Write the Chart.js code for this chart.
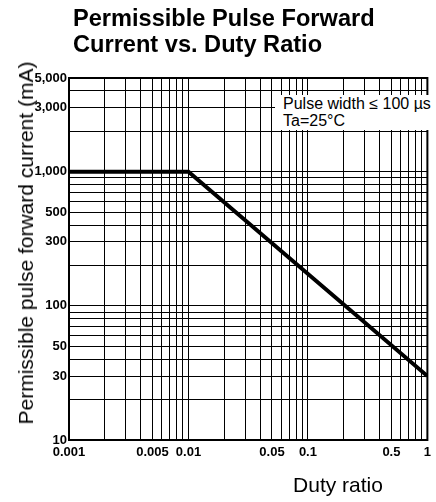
<!DOCTYPE html>
<html>
<head>
<meta charset="utf-8">
<script src="https://cdn.jsdelivr.net/npm/chart.js@4/dist/chart.umd.min.js"></script>
<style>
    html, body { margin: 0; padding: 0; background: #fff; }
    #wrap { position: relative; width: 436px; height: 502px; font-family: "Liberation Sans", Arial, sans-serif; color: #000; }
    #chart { position: absolute; left: 0; top: 0; }
    .title { position: absolute; left: 73px; top: 5px; font-weight: bold; font-size: 23.6px; line-height: 26px; }
    .ytitle { position: absolute; left: 26px; top: 243px; transform: translate(-50%, -50%) rotate(-90deg); white-space: nowrap; font-size: 21px; }
    .xtitle { position: absolute; left: 338px; top: 474px; transform: translateX(-50%); white-space: nowrap; font-size: 21px; line-height: 21px; }
    .note { position: absolute; left: 275px; top: 95px; width: 150px; height: 35px; padding-left: 8px; background: #fff; font-size: 16px; line-height: 17px; }
</style>
</head>
<body>
<div id="wrap">
    <canvas id="chart" width="436" height="502"></canvas>
    <div class="title">Permissible Pulse Forward<br>Current vs. Duty Ratio</div>
    <div class="ytitle">Permissible pulse forward current (mA)</div>
    <div class="xtitle">Duty ratio</div>
    <div class="note">Pulse width ≤ 100 µs<br>Ta=25°C</div>
</div>
<script>
// derating curve
const dutyRatio = [0.001, 0.01, 1];
const currentMA = [1000, 1000, 30];

// grid lines and labelled ticks
const xGrid = [0.001, 0.002, 0.003, 0.004, 0.005, 0.006, 0.007, 0.008, 0.009,
    0.01, 0.02, 0.03, 0.04, 0.05, 0.06, 0.07, 0.08, 0.09,
    0.1, 0.2, 0.3, 0.4, 0.5, 0.6, 0.7, 0.8, 0.9, 1];
const yGrid = [10, 20, 30, 40, 50, 60, 70, 80, 90,
    100, 200, 300, 400, 500, 600, 700, 800, 900,
    1000, 2000, 3000, 4000, 5000];
const xLabels = ['0.001', '0.005', '0.01', '0.05', '0.1', '0.5', '1'];
const yLabels = ['10', '30', '50', '100', '300', '500', '1,000', '3,000', '5,000'];

const tickFont = { family: '"Liberation Sans", Arial, sans-serif', size: 13, weight: 'bold' };

const labelFor = (list) => (v) => {
    const hit = list.find(l => Number(l.replace(/,/g, '')) === v);
    return hit || '';
};

const ctx = document.getElementById('chart').getContext('2d');
new Chart(ctx, {
    type: 'line',
    data: {
        datasets: [{
            data: dutyRatio.map((d, i) => ({ x: d, y: currentMA[i] })),
            borderColor: '#000',
            borderWidth: 4,
            pointRadius: 0,
            tension: 0
        }]
    },
    options: {
        responsive: false,
        animation: false,
        devicePixelRatio: 1,
        layout: { autoPadding: false, padding: { top: 78, right: 3, bottom: 0, left: 0 } },
        plugins: { legend: { display: false }, title: { display: false }, tooltip: { enabled: false } },
        scales: {
            x: {
                type: 'logarithmic',
                min: 0.001, max: 1,
                afterFit: (s) => { s.height = 62; },
                afterBuildTicks: (s) => { s.ticks = xGrid.map(v => ({ value: v })); },
                grid: { color: '#000', lineWidth: 1, drawTicks: false },
                border: { color: '#000', width: 2 },
                ticks: {
                    autoSkip: false, maxRotation: 0, padding: 5,
                    color: '#000', font: tickFont,
                    callback: labelFor(xLabels)
                }
            },
            y: {
                type: 'logarithmic',
                min: 10, max: 5000,
                afterFit: (s) => { s.width = 69; },
                afterBuildTicks: (s) => { s.ticks = yGrid.map(v => ({ value: v })); },
                grid: { color: '#000', lineWidth: 1, drawTicks: false },
                border: { color: '#000', width: 2 },
                ticks: {
                    autoSkip: false, padding: 2,
                    color: '#000', font: tickFont,
                    callback: labelFor(yLabels)
                }
            }
        }
    },
    plugins: [{
        id: 'frame',
        afterDraw: (chart) => {
            const a = chart.chartArea;
            const c = chart.ctx;
            c.save();
            c.strokeStyle = '#000';
            c.lineWidth = 2;
            c.strokeRect(a.left, a.top, a.right - a.left, a.bottom - a.top);
            c.restore();
        }
    }]
});
</script>
</body>
</html>
